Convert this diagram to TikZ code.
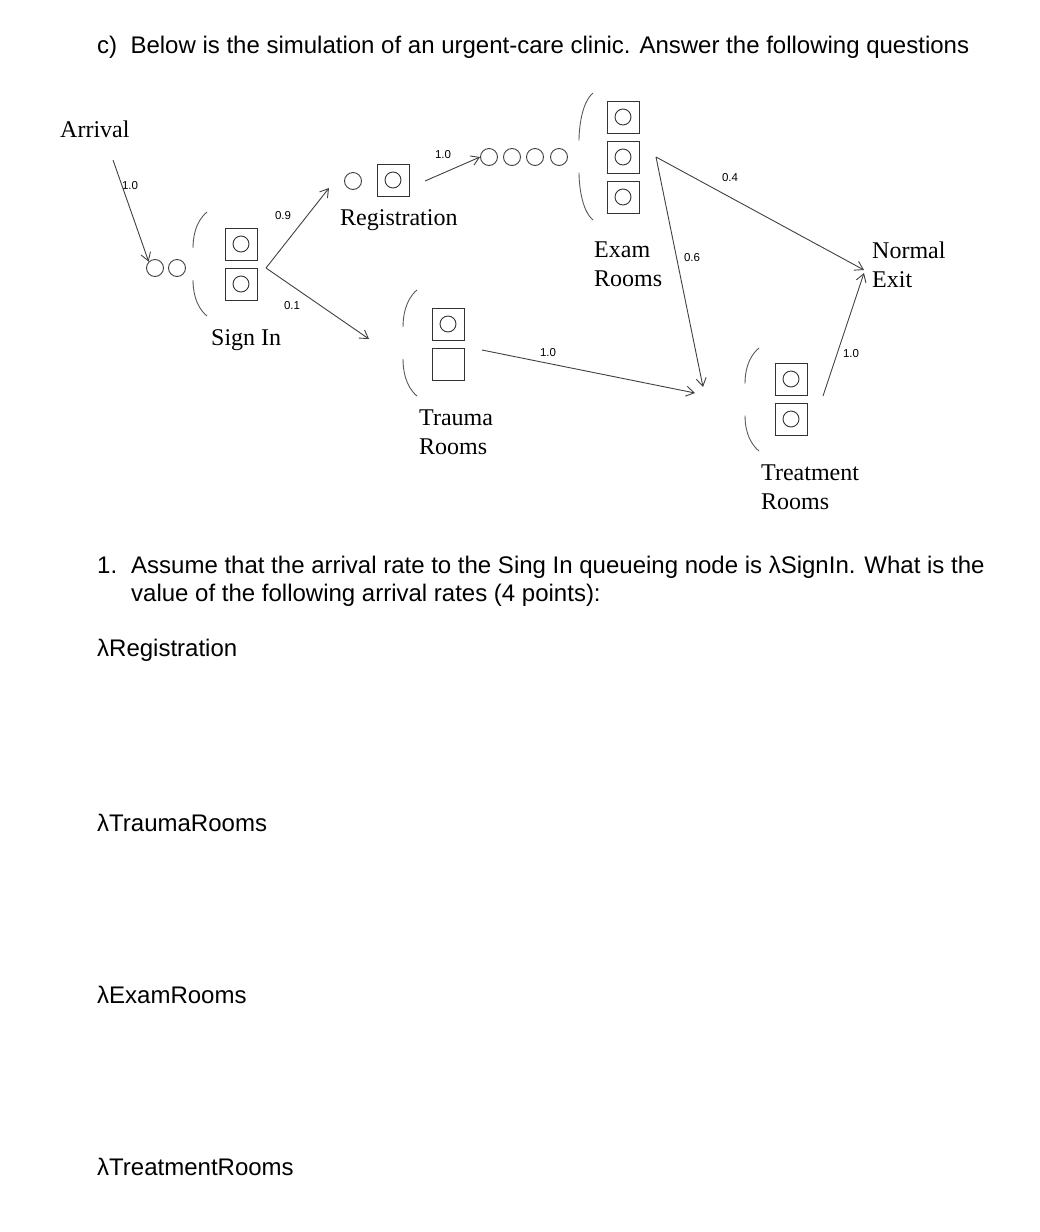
\documentclass[tikz,border=0pt]{standalone}
\usepackage{fontspec}
\usetikzlibrary{arrows.meta}
\setmainfont{Liberation Serif}
\newfontfamily\arial{Liberation Sans}
\begin{document}
\begin{tikzpicture}[x=1pt,y=-1pt,
  srv/.style={draw=black!80,line width=1pt,minimum size=32pt,inner sep=0pt},
  qc/.style={circle,draw=black!75,line width=0.9pt,minimum size=17pt,inner sep=0pt},
  lbl/.style={font=\fontsize{24}{29}\selectfont,align=left,inner sep=0pt,anchor=north west},
  prob/.style={font=\arial\fontsize{11.5}{12}\selectfont,inner sep=1pt},
  flow/.style={draw=black!75,line width=0.9pt,-{Straight Barb[length=8pt,width=10pt,line width=0.9pt]}},
  brk/.style={draw=black!65,line width=0.9pt},
  txt/.style={font=\arial\fontsize{24}{28}\selectfont,inner sep=0pt,anchor=west}]
\useasboundingbox (0,0) rectangle (1040,1232);
\node[txt] (title) at (97,47) {c)\ \ Below is the simulation of an urgent-care clinic. Answer the following questions};
% Arrival
\node[lbl] (arr) at (60,121) {Arrival};
\coordinate (arrS) at (113,160);
\node[prob] (p1) at (130,186) {1.0};
% Sign In
\node[qc] (s1) at (155,268) {};
\node[qc] (s2) at (177,268) {};
\node[srv] (sb1) at (241,244) {}; \draw[black!80,line width=0.9pt] (sb1) circle (8);
\node[srv] (sb2) at (241,284) {}; \draw[black!80,line width=0.9pt] (sb2) circle (8);
\node[lbl] (signin) at (211,329) {Sign In};
\draw[flow] (arrS) -- (s1.north west);
\coordinate (sp) at (266,268);
\coordinate (regIn) at (329,188);
\coordinate (trIn) at (369,339);
\draw[flow] (sp) -- (regIn);
\draw[flow] (sp) -- (trIn);
\node[prob] at (283,216) {0.9};
\node[prob] at (292,306) {0.1};
% Registration
\node[qc] (r1) at (353,181) {};
\node[srv] (rb) at (393,180) {}; \draw[black!80,line width=0.9pt] (rb) circle (8);
\node[lbl] (reg) at (340,209) {Registration};
\coordinate (rOut) at (425,181);
\node[qc] (e1) at (489,157) {};
\node[qc] (e2) at (512,157) {};
\node[qc] (e3) at (535,157) {};
\node[qc] (e4) at (559,157) {};
\draw[flow] (rOut) -- (e1.west);
\node[prob] at (443,155) {1.0};
% Exam
\node[srv] (eb1) at (623,117) {}; \draw[black!80,line width=0.9pt] (eb1) circle (8);
\node[srv] (eb2) at (623,157) {}; \draw[black!80,line width=0.9pt] (eb2) circle (8);
\node[srv] (eb3) at (623,197) {}; \draw[black!80,line width=0.9pt] (eb3) circle (8);
\node[lbl] (exam) at (594,242) {Exam\\Rooms};
\coordinate (ep) at (656,157);
\node[lbl] (exit) at (872,242) {Normal\\Exit};
\coordinate (exIn) at (864,270);
\coordinate (tmIn) at (703,387);
\draw[flow] (ep) -- (exIn);
\draw[flow] (ep) -- (tmIn);
\node[prob] at (730,178) {0.4};
\node[prob] at (692,258) {0.6};
% Trauma
\node[srv] (tb1) at (448,324) {}; \draw[black!80,line width=0.9pt] (tb1) circle (8);
\node[srv] (tb2) at (448,364) {};
\node[lbl] (trauma) at (419,410) {Trauma\\Rooms};
\coordinate (tOut) at (482,350);
\coordinate (tmIn2) at (695,393);
\draw[flow] (tOut) -- (tmIn2);
\node[prob] at (548,353) {1.0};
% Treatment
\node[srv] (mb1) at (791,379) {}; \draw[black!80,line width=0.9pt] (mb1) circle (8);
\node[srv] (mb2) at (791,419) {}; \draw[black!80,line width=0.9pt] (mb2) circle (8);
\node[lbl] (treat) at (761,465) {Treatment\\Rooms};
\coordinate (mOut) at (823,396);
\coordinate (exIn2) at (864,273);
\draw[flow] (mOut) -- (exIn2);
\node[prob] at (851,354) {1.0};
% brackets
\foreach \bx/\ty/\by in {207/212/316, 417/290/396, 593/93/220, 759/348/451}{
  \pgfmathsetmacro{\mt}{(\ty+\by)/2-16}
  \pgfmathsetmacro{\mb}{(\ty+\by)/2+16}
  \draw[brk] (\bx,\ty) .. controls (\bx-12,\ty+10) and (\bx-14,\mt-10) .. (\bx-14,\mt);
  \draw[brk] (\bx-14,\mb) .. controls (\bx-14,\mb+10) and (\bx-12,\by-10) .. (\bx,\by);
}
% questions
\node[txt,anchor=base west] (q1) at (97,573) {1.};
\node[txt,align=left,anchor=base west] (q1t) at (131,573) {Assume that the arrival rate to the Sing In queueing node is λSignIn. What is the};
\node[txt,anchor=base west] (q1u) at (131,601) {value of the following arrival rates (4 points):};
\node[txt] (l1) at (97,650) {λRegistration};
\node[txt] (l2) at (97,823) {λTraumaRooms};
\node[txt] (l3) at (97,995) {λExamRooms};
\node[txt] (l4) at (97,1167) {λTreatmentRooms};
\end{tikzpicture}
\end{document}
